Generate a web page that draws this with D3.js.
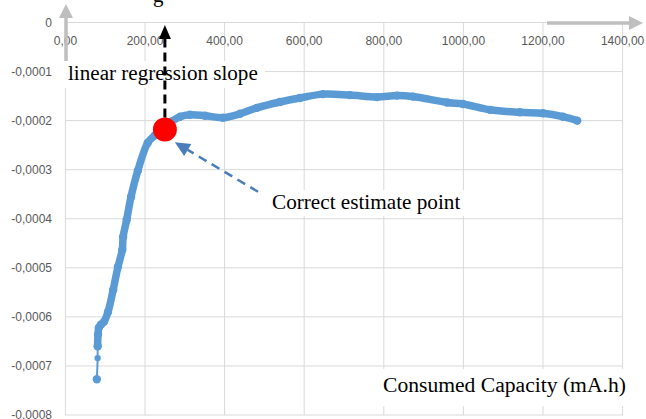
<!DOCTYPE html>
<html>
<head>
<meta charset="utf-8">
<script src="https://cdn.jsdelivr.net/npm/d3@7"></script>
<style>
  body { margin: 0; background: #fff; }
  svg { display: block; }
</style>
</head>
<body>
<svg id="chart" width="646" height="419"></svg>
<script>
// Consumed capacity (mA.h) and the matching slope values
const capacity = [79, 81, 81, 82, 84, 89, 97, 107, 120, 132, 143, 145, 154, 165, 182, 207, 225, 250,
  268, 288, 313, 351, 396, 439, 481, 539, 589, 647, 715, 783, 833, 873, 959, 999, 1067, 1142, 1200, 1250, 1286];
const slope = [-0.000727, -0.000684, -0.000660, -0.000636, -0.000622, -0.000616, -0.000610, -0.000590,
  -0.000545, -0.000498, -0.000463, -0.000437, -0.000402, -0.000355, -0.000302, -0.000245, -0.000230,
  -0.000216, -0.000201, -0.000192, -0.000188, -0.000190, -0.000194, -0.000186, -0.000174, -0.000162,
  -0.000154, -0.000146, -0.000148, -0.000152, -0.000149, -0.000151, -0.000163, -0.000166, -0.000178,
  -0.000183, -0.000185, -0.000192, -0.000200];

// Highlighted estimate point
const estimateCapacity = 250;
const estimateSlope = -0.000218;

// Axis ticks
const xTicks = [0, 200, 400, 600, 800, 1000, 1200, 1400];
const xTickLabels = ["0,00", "200,00", "400,00", "600,00", "800,00", "1000,00", "1200,00", "1400,00"];
const yTicks = [0, -0.0001, -0.0002, -0.0003, -0.0004, -0.0005, -0.0006, -0.0007, -0.0008];
const yTickLabels = ["0", "-0,0001", "-0,0002", "-0,0003", "-0,0004", "-0,0005", "-0,0006", "-0,0007", "-0,0008"];

const svg = d3.select("#chart");
const x = d3.scaleLinear().domain([0, 1400]).range([65.4, 622.6]);
const y = d3.scaleLinear().domain([-0.0008, 0]).range([415, 22.5]);

const gridColor = "#d9d9d9";
const labelFont = "'Liberation Sans', Arial, sans-serif";
const serif = "'Liberation Serif', 'Times New Roman', serif";

// Gridlines
const grid = svg.append("g");
grid.selectAll("line.h").data(yTicks).join("line")
  .attr("x1", x(0)).attr("x2", x(1400))
  .attr("y1", d => y(d)).attr("y2", d => y(d))
  .attr("stroke", gridColor).attr("stroke-width", 1);
grid.selectAll("line.v").data(xTicks).join("line")
  .attr("y1", y(0)).attr("y2", y(-0.0008))
  .attr("x1", d => x(d)).attr("x2", d => x(d))
  .attr("stroke", gridColor).attr("stroke-width", 1);

// Tick labels
svg.append("g").selectAll("text").data(xTicks).join("text")
  .attr("x", d => x(d)).attr("y", 45)
  .attr("text-anchor", "middle")
  .attr("font-family", labelFont).attr("font-size", 12).attr("fill", "#595959")
  .text((d, i) => xTickLabels[i]);
svg.append("g").selectAll("text").data(yTicks).join("text")
  .attr("x", 52).attr("y", d => y(d))
  .attr("dy", "0.35em")
  .attr("text-anchor", "end")
  .attr("font-family", labelFont).attr("font-size", 12).attr("fill", "#595959")
  .text((d, i) => yTickLabels[i]);

// Series
const pts = capacity.map((c, i) => [c, slope[i]]);
const line = d3.line().x(d => x(d[0])).y(d => y(d[1])).curve(d3.curveCatmullRom);
const blue = "#5b9bd5";
svg.append("path").attr("d", line(pts))
  .attr("fill", "none").attr("stroke", blue).attr("stroke-width", 2);
svg.append("path").attr("d", line(pts.slice(2)))
  .attr("fill", "none").attr("stroke", blue).attr("stroke-width", 7.5)
  .attr("stroke-linecap", "round").attr("stroke-linejoin", "round");
svg.append("g").selectAll("circle").data(pts).join("circle")
  .attr("cx", d => x(d[0])).attr("cy", d => y(d[1]))
  .attr("r", (d, i) => i === 1 ? 3.2 : 4.2).attr("fill", blue);

// Estimate point
svg.append("circle")
  .attr("cx", x(estimateCapacity)).attr("cy", y(estimateSlope))
  .attr("r", 12).attr("fill", "#ff0000");

// Text boxes with white fill
function textBox(bx, by, bw, bh, tx, ty, str, size) {
  svg.append("rect").attr("x", bx).attr("y", by).attr("width", bw).attr("height", bh).attr("fill", "#fff");
  svg.append("text").attr("x", tx).attr("y", ty)
    .attr("font-family", serif).attr("font-size", size).attr("fill", "#000")
    .text(str);
}

// Gray axis arrows
const gray = "#bfbfbf";
svg.append("line").attr("x1", 66).attr("x2", 66).attr("y1", 83).attr("y2", 17)
  .attr("stroke", gray).attr("stroke-width", 3.5);
svg.append("path").attr("d", "M66,4 L73,18 L59,18 Z").attr("fill", gray);
svg.append("line").attr("x1", 547).attr("x2", 630).attr("y1", 23).attr("y2", 23)
  .attr("stroke", gray).attr("stroke-width", 3.5);
svg.append("path").attr("d", "M643,23 L629,16 L629,30 Z").attr("fill", gray);

textBox(62, 61, 203, 27, 68, 80, "linear regression slope", 21.1);
textBox(265, 190, 203, 26, 272, 209, "Correct estimate point", 21.2);
textBox(376, 369, 254, 37, 383, 392, "Consumed Capacity (mA.h)", 21.6);

// Fragment of a heading above the plot
svg.append("text").attr("x", 153).attr("y", 2)
  .attr("font-family", serif).attr("font-size", 21).attr("fill", "#000").text("g");

// Black dashed arrow from the estimate point upward
const bx = x(estimateCapacity);
svg.append("line").attr("x1", bx).attr("x2", bx)
  .attr("y1", y(estimateSlope) - 12).attr("y2", 38)
  .attr("stroke", "#000").attr("stroke-width", 3).attr("stroke-dasharray", "9,5");
svg.append("path")
  .attr("d", `M${bx},${y(-0.000005)} L${bx + 6},${y(-0.000005) + 14} L${bx - 6},${y(-0.000005) + 14} Z`)
  .attr("fill", "#000");

// Blue dashed arrow pointing at the estimate point
const arrowBlue = "#4a7ebb";
const tail = [x(484), y(-0.000345)];
const tip = [x(275), y(-0.000244)];
const ang = Math.atan2(tip[1] - tail[1], tip[0] - tail[0]);
const headLen = 15, headW = 7;
const base = [tip[0] - headLen * Math.cos(ang), tip[1] - headLen * Math.sin(ang)];
svg.append("line").attr("x1", tail[0]).attr("y1", tail[1]).attr("x2", base[0]).attr("y2", base[1])
  .attr("stroke", arrowBlue).attr("stroke-width", 2.5).attr("stroke-dasharray", "9,6");
svg.append("path")
  .attr("d", `M${tip[0]},${tip[1]} L${base[0] - headW * Math.sin(ang)},${base[1] + headW * Math.cos(ang)} L${base[0] + headW * Math.sin(ang)},${base[1] - headW * Math.cos(ang)} Z`)
  .attr("fill", arrowBlue);
</script>
</body>
</html>
